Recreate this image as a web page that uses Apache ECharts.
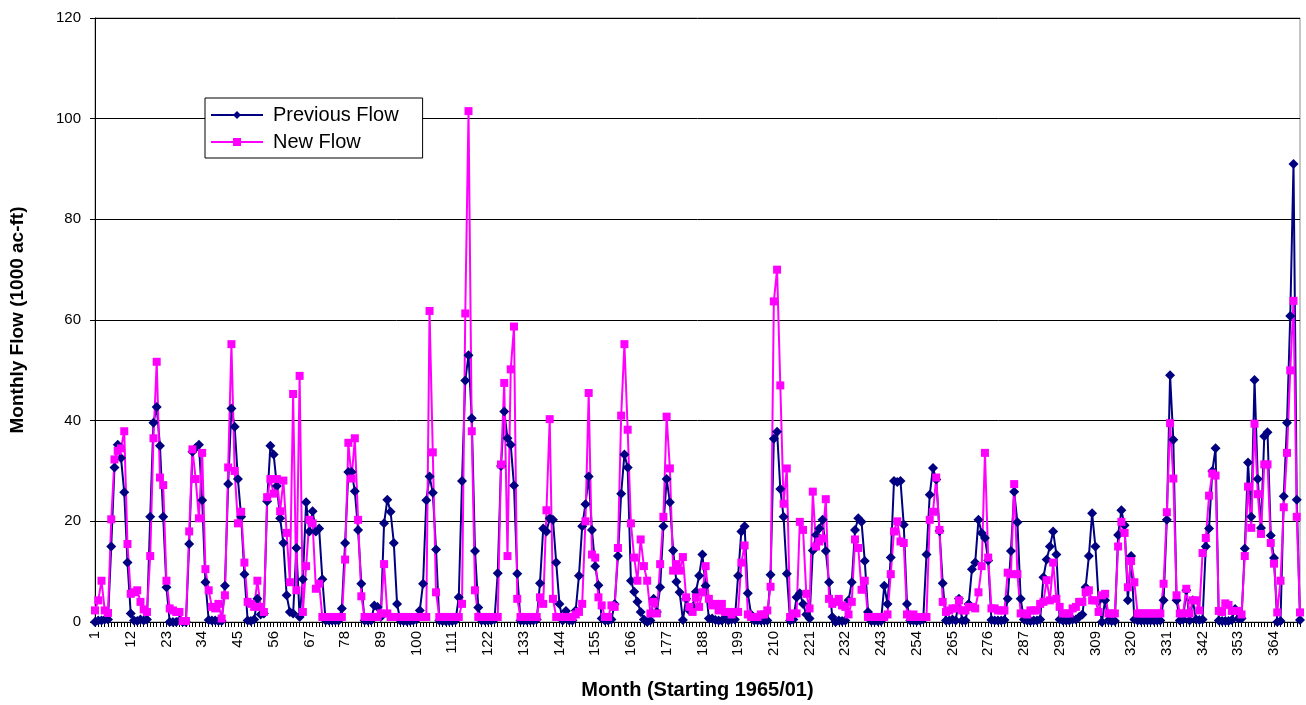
<!DOCTYPE html>
<html>
<head>
<meta charset="utf-8">
<title>Monthly Flow</title>
<script src="https://cdn.jsdelivr.net/npm/echarts@6/dist/echarts.min.js"></script>
<style>
  html, body { margin: 0; padding: 0; background: #fff; }
  #chart { width: 1306px; height: 705px; }
</style>
</head>
<body>
<div id="chart"></div>
<script>
// Month index labels 1..372 (January 1965 onward)
const months = Array.from({ length: 372 }, (_, i) => String(i + 1));

// Previous flow, 1000 ac-ft, one row per year
const prevFlow = [
  0, 0.3, 0.3, 0.5, 0.5, 15, 30.7, 35.2, 32.6, 25.8, 11.8, 1.7,
  0.3, 0.2, 0.5, 0.3, 0.5, 20.9, 39.6, 42.7, 35, 20.9, 6.9, 0,
  0, 0, 0.3, 0, 0, 15.5, 33.8, 34.6, 35.2, 24.2, 7.9, 0.4,
  0.3, 0.3, 0.2, 0.2, 7.2, 27.4, 42.4, 38.8, 28.4, 20.9, 9.5, 0.3,
  0.2, 0.5, 4.6, 1.5, 1.7, 24, 35, 33.3, 27, 20.6, 15.7, 5.3,
  2, 1.7, 14.7, 1, 8.5, 23.8, 18, 22, 18, 18.6, 8.5, 0.3,
  0.3, 0.3, 0.3, 0.3, 2.7, 15.7, 29.8, 29.8, 26, 18.3, 7.6, 0.3,
  0.3, 0.3, 3.3, 3, 1, 19.6, 24.3, 21.9, 15.7, 3.6, 0.3, 0.2,
  0.2, 0.2, 0.3, 0.5, 2.3, 7.6, 24.2, 28.9, 25.7, 14.4, 0.3, 0.2,
  0.2, 0.2, 0.2, 0.3, 4.9, 28, 48, 53, 40.5, 14.1, 2.9, 0.3,
  0.3, 0.3, 0.3, 0.5, 9.7, 31, 41.8, 36.5, 35.2, 27.1, 9.6, 0.3,
  0.3, 0.3, 0.3, 0.3, 0.5, 7.7, 18.6, 18, 20.6, 20.3, 11.8, 3.6,
  0.3, 2.2, 0.3, 0.3, 2.3, 9.2, 19, 23.4, 28.9, 18.3, 11.1, 7.3,
  0.7, 0.3, 0.3, 0.5, 3.6, 13.1, 25.5, 33.3, 30.7, 8.2, 6, 4,
  2, 0.5, 0, 0.3, 4.6, 2, 6.9, 19, 28.4, 23.8, 14.2, 8,
  5.9, 0.4, 4.6, 2.3, 3, 6, 9.2, 13.4, 7.2, 0.7, 0.7, 0.4,
  0.3, 0.3, 0.7, 0.3, 0.5, 0.5, 9.2, 18, 19, 5.7, 1.5, 0.3,
  0.3, 0.3, 0.3, 0.3, 9.4, 36.4, 37.8, 26.4, 20.9, 9.6, 0.3, 0.5,
  4.9, 5.7, 3.6, 1.5, 0.7, 14.2, 17.3, 18.6, 20.3, 14.1, 7.9, 1,
  0, 0.3, 0.2, 0.3, 4.3, 7.9, 18.3, 20.6, 19.9, 12.1, 2, 0.2,
  0.2, 0.2, 0.2, 7.2, 3.6, 12.8, 28, 27.8, 28, 19.3, 3.6, 0.3,
  0.3, 0.2, 0.3, 0.5, 13.4, 25.3, 30.6, 28.3, 18.1, 7.7, 0.3, 0.3,
  0.5, 0.3, 4.6, 0.3, 0.3, 3.6, 10.5, 11.8, 20.3, 17.7, 16.7, 12.2,
  0.4, 0.3, 0.3, 0.3, 0.4, 4.6, 14.1, 25.9, 19.8, 4.6, 0.5, 0.3,
  0.2, 0.3, 0.3, 0.5, 8.9, 12.4, 15, 18, 13.4, 0.5, 0.3, 0.3,
  0.3, 0.5, 0.5, 1, 1.5, 6.9, 13.1, 21.6, 15, 4.3, 0, 4.3,
  0.3, 0.2, 0.2, 17.3, 22.2, 19.2, 4.3, 13.1, 0.5, 0.3, 0.3, 0.3,
  0.3, 0.3, 0.3, 0.3, 0.3, 4.3, 20.3, 49, 36.2, 4.3, 0.3, 0.5,
  6.3, 0.3, 4.3, 0.5, 0.4, 0.5, 15, 18.6, 30, 34.5, 0.3, 0.2,
  0.2, 0.2, 0.4, 2.6, 0.7, 0.7, 14.6, 31.7, 20.9, 48.1, 28.4, 18.7,
  36.9, 37.7, 17.2, 12.7, 0, 0.2, 25, 39.6, 60.8, 91, 24.3, 0.4
];

// New flow, 1000 ac-ft, one row per year
const newFlow = [
  2.3, 4.3, 8.2, 2.3, 1.8, 20.4, 32.3, 34, 34.5, 37.9, 15.5, 5.6,
  5.9, 6.3, 4, 2.5, 2, 13.1, 36.5, 51.7, 28.7, 27.2, 8.2, 2.7,
  2.3, 2, 2, 0.2, 0.2, 18, 34.3, 28.4, 20.6, 33.6, 10.5, 6.3,
  3, 2.7, 3.6, 0.7, 5.3, 30.7, 55.2, 30, 19.6, 21.9, 11.8, 4,
  3.6, 3, 8.2, 3, 2, 24.8, 28.4, 25.5, 28.4, 22, 28.1, 17.7,
  7.9, 45.3, 6.3, 48.9, 2, 11.1, 20.3, 19.6, 6.6, 7.6, 1, 1,
  1, 1, 1, 1, 1, 12.4, 35.6, 28.5, 36.5, 20.3, 5.1, 1,
  1, 1, 1, 1, 1.7, 11.5, 1.7, 1, 1, 1, 1, 1,
  1, 1, 1, 1, 1, 1, 1, 61.8, 33.7, 5.9, 1, 1,
  1, 1, 1, 1, 1, 3.6, 61.3, 101.5, 37.9, 6.3, 1, 1,
  1, 1, 1, 1, 1, 31.3, 47.5, 13.1, 50.2, 58.7, 4.6, 1,
  1, 1, 1, 1, 1, 4.9, 3.6, 22.2, 40.3, 4.6, 1, 1,
  1, 1, 1, 1, 1.5, 2, 3.6, 20, 45.5, 13.4, 12.8, 4.9,
  3.3, 1, 1, 3.3, 3, 14.7, 41, 55.2, 38.2, 19.6, 12.8, 8.2,
  16.4, 11.1, 8.2, 1.7, 4, 1.7, 11.5, 20.9, 40.8, 30.5, 10.2, 11.5,
  10.2, 12.9, 4.9, 3, 2, 4.9, 3, 5.9, 11.1, 4.6, 3.3, 3.6,
  2.3, 3.6, 2, 2, 1.5, 2, 2, 11.8, 15.2, 1.5, 1, 1,
  1, 1.5, 1.5, 2.3, 7, 63.7, 70, 47, 23.5, 30.5, 1, 1.7,
  1.7, 19.9, 18.3, 5.6, 2.7, 25.9, 15, 16, 16.6, 24.4, 4.6, 3.6,
  4, 4.6, 3.3, 3, 1.5, 4, 16.4, 14.7, 6.4, 8.2, 1, 1,
  1, 1, 1, 1, 1.5, 9.5, 18, 20, 16, 15.7, 1.5, 1,
  1.5, 1, 1, 1, 1, 20.3, 21.9, 28.7, 18.3, 4, 2, 2.3,
  2.7, 2.7, 4.3, 2.3, 2.3, 3, 3, 2.7, 5.9, 11.1, 33.6, 12.8,
  2.7, 2.7, 2.3, 2.3, 2.3, 9.8, 9.5, 27.4, 9.5, 1.7, 1.7, 1.5,
  2.3, 2.3, 2.3, 3.6, 4, 8.3, 4.3, 11.8, 4.6, 3, 1.7, 1.7,
  1.7, 2.7, 3, 4, 4, 5.9, 6.3, 4.3, 4.3, 2, 5.3, 5.6,
  1.7, 1.7, 1.7, 15, 19.9, 17.7, 6.9, 12.1, 7.9, 1.7, 1.7, 1.7,
  1.7, 1.7, 1.7, 1.7, 1.7, 7.6, 21.8, 39.5, 28.5, 5.3, 1.7, 1.7,
  6.6, 1.7, 4.3, 4.3, 2.3, 13.7, 16.7, 25.1, 29.5, 29.1, 2.2, 2,
  3.7, 3.4, 2.2, 2.2, 2.2, 1.5, 13.1, 26.9, 18.7, 39.4, 25.4, 17.5,
  31.3, 31.3, 15.7, 11.6, 1.9, 8.2, 22.8, 33.6, 50, 63.8, 20.9, 1.9
];

const seriesNames = ['Previous Flow', 'New Flow'];
const yTicks = { min: 0, max: 120, step: 20 };

const FONT = 'Arial, "Liberation Sans", Helvetica, sans-serif';

const chart = echarts.init(document.getElementById('chart'), null, { renderer: 'canvas' });

chart.setOption({
  animation: false,
  backgroundColor: '#ffffff',
  textStyle: { fontFamily: FONT },
  grid: {
    left: 88, right: 6, top: 18, bottom: 73,
    show: true, borderColor: '#8c8c8c', borderWidth: 1,
    containLabel: false
  },
  legend: {
    orient: 'vertical',
    left: 205, top: 98,
    data: seriesNames,
    itemWidth: 52, itemHeight: 10, itemGap: 7,
    padding: [7, 24, 6, 5],
    borderColor: '#000', borderWidth: 1, borderRadius: 0,
    backgroundColor: '#fff',
    textStyle: { fontFamily: FONT, fontSize: 20, color: '#000', padding: [0, 0, 0, 5] }
  },
  xAxis: {
    type: 'category',
    data: months,
    boundaryGap: false,
    name: 'Month (Starting 1965/01)',
    nameLocation: 'middle',
    nameGap: 58,
    nameTextStyle: { fontFamily: FONT, fontSize: 20, fontWeight: 'bold', color: '#000' },
    axisLine: { lineStyle: { color: '#000', width: 1 } },
    axisTick: { show: true, interval: 0, length: 5, lineStyle: { color: '#000' } },
    axisLabel: {
      interval: 10, rotate: 90, margin: 9,
      fontFamily: FONT, fontSize: 15, color: '#000'
    },
    splitLine: { show: false }
  },
  yAxis: {
    type: 'value',
    min: yTicks.min, max: yTicks.max, interval: yTicks.step,
    name: 'Monthly Flow (1000 ac-ft)',
    nameLocation: 'middle',
    nameRotate: 90,
    nameGap: 68,
    nameTextStyle: { fontFamily: FONT, fontSize: 19, fontWeight: 'bold', color: '#000' },
    axisLine: { show: true, lineStyle: { color: '#000', width: 1 } },
    axisTick: { show: true, length: 5, lineStyle: { color: '#000' } },
    axisLabel: { margin: 14, fontFamily: FONT, fontSize: 15, color: '#000' },
    splitLine: { show: true, lineStyle: { color: '#000', width: 1 } }
  },
  series: [
    {
      name: seriesNames[0],
      type: 'line',
      data: prevFlow,
      symbol: 'diamond',
      symbolSize: 10,
      showAllSymbol: true,
      itemStyle: { color: '#000080' },
      lineStyle: { color: '#000080', width: 2 }
    },
    {
      name: seriesNames[1],
      type: 'line',
      data: newFlow,
      symbol: 'rect',
      symbolSize: 8,
      showAllSymbol: true,
      itemStyle: { color: '#ff00ff' },
      lineStyle: { color: '#ff00ff', width: 2 }
    }
  ]
});
</script>
</body>
</html>
